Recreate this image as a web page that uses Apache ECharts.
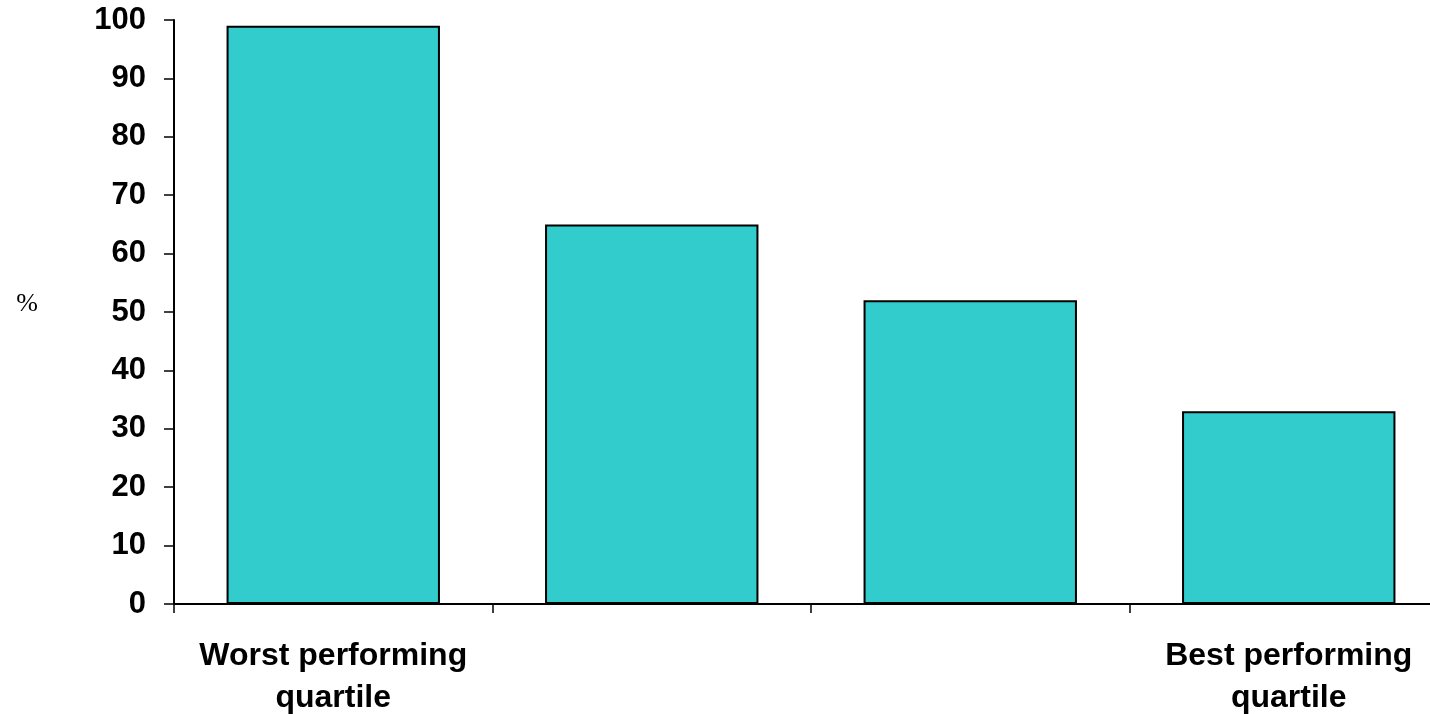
<!DOCTYPE html>
<html>
<head>
<meta charset="utf-8">
<script src="https://cdn.jsdelivr.net/npm/echarts@6/dist/echarts.min.js"></script>
<style>
  html, body { margin: 0; padding: 0; background: #ffffff; }
  #chart { width: 1430px; height: 714px; }
</style>
</head>
<body>
<div id="chart"></div>
<script>
// Quartile groups along the x axis; only the two ends carry a label
const categories = ['Worst performing\nquartile', '', '', 'Best performing\nquartile'];
// Share (%) for each performance quartile
const values = [99, 65, 52, 33];
// Value axis range and step
const yMin = 0;
const yMax = 100;
const yStep = 10;
const yAxisTitle = '%';

const chart = echarts.init(document.getElementById('chart'), null, { renderer: 'canvas' });

chart.setOption({
  animation: false,
  backgroundColor: '#ffffff',
  // the plot runs a little past the right edge of the canvas
  grid: { left: 174, top: 20, width: 1274, height: 584, containLabel: false, outerBoundsMode: 'none' },
  xAxis: {
    type: 'category',
    data: categories,
    axisLine: { lineStyle: { color: '#000000', width: 2 } },
    axisTick: { show: true, length: 9, lineStyle: { color: '#000000', width: 1.5 } },
    axisLabel: {
      interval: 0,
      color: '#000000',
      fontFamily: 'Liberation Sans, Arial, sans-serif',
      fontWeight: 'bold',
      fontSize: 32,
      lineHeight: 42,
      margin: 31
    },
    splitLine: { show: false }
  },
  yAxis: {
    type: 'value',
    min: yMin,
    max: yMax,
    interval: yStep,
    name: yAxisTitle,
    nameLocation: 'middle',
    nameRotate: 0,
    nameGap: 136,
    nameTextStyle: {
      color: '#000000',
      fontFamily: 'Liberation Serif, Times New Roman, serif',
      fontSize: 26,
      verticalAlign: 'bottom',
      lineHeight: 16
    },
    axisLine: { show: true, lineStyle: { color: '#000000', width: 2 } },
    axisTick: { show: true, length: 10, lineStyle: { color: '#000000', width: 1.5 } },
    axisLabel: {
      color: '#000000',
      fontFamily: 'Liberation Sans, Arial, sans-serif',
      fontWeight: 'bold',
      fontSize: 31,
      margin: 28
    },
    splitLine: { show: false }
  },
  series: [{
    type: 'bar',
    data: values,
    barCategoryGap: '33%',
    itemStyle: { color: '#33CCCC', borderColor: '#000000', borderWidth: 2 }
  }]
});
</script>
</body>
</html>
